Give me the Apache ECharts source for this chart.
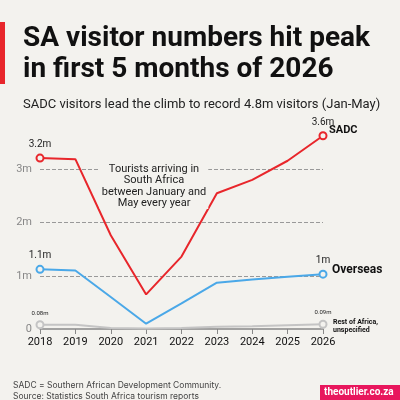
<!DOCTYPE html><html><head><meta charset="utf-8"><script src="https://cdn.jsdelivr.net/npm/echarts@6/dist/echarts.min.js"></script>
<style>html,body{margin:0;background:#f3f2ee}#c{width:400px;height:400px}</style></head><body><div id="c"></div><script>
const years=['2018','2019','2020','2021','2022','2023','2024','2025','2026'];
const sadc=[3.21,3.19,1.76,0.65,1.36,2.55,2.8,3.16,3.63];
const overseas=[1.12,1.1,0.6,0.1,0.48,0.87,0.93,0.98,1.03];
const rest=[0.08,0.08,0.02,0.01,0.02,0.04,0.05,0.07,0.09];
const yTicks=[0,1,2,3];
const F="'Liberation Sans Narrow','Roboto',sans-serif";
const ch=echarts.init(document.getElementById('c'));
function ser(name,data,color,firstLbl,lastLbl,lblSize){
 return {type:'line',name,data:data.map((v,i)=>{
  const o={value:v,symbol:'none'};
  if(i===0||i===data.length-1){o.symbol='circle';o.symbolSize=7;o.itemStyle={color:'#f3f2ee',borderColor:color,borderWidth:2};
   o.label={show:true,position:'top',distance:4,formatter:i===0?firstLbl:lastLbl,color:'#222',fontSize:lblSize,fontFamily:F}}
  return o}),lineStyle:{color,width:2},itemStyle:{color},animation:false,z:name==='rest'?1:3}}
ch.setOption({backgroundColor:'#f3f2ee',
 title:[{text:'SA visitor numbers hit peak\nin first 5 months of 2026',left:18,top:18,textStyle:{fontFamily:F,fontSize:28,fontWeight:'bold',color:'#111',lineHeight:31}},
  {text:'SADC visitors lead the climb to record 4.8m visitors (Jan-May)',left:18,top:93,textStyle:{fontFamily:F,fontSize:13,fontWeight:'normal',color:'#222'}},
  {text:'SADC = Southern African Development Community.\nSource: Statistics South Africa tourism reports',left:8,top:375,textStyle:{fontFamily:'Inter,sans-serif',fontSize:8.5,fontWeight:'normal',color:'#444',lineHeight:11}}],
 graphic:[{type:'rect',shape:{x:0,y:22,width:5,height:62},style:{fill:'#e8262b'}},
  {type:'rect',shape:{x:320,y:385,width:80,height:15},style:{fill:'#e8175d'}},
  {type:'text',left:324,top:387,style:{text:'theoutlier.co.za',fill:'#fff',font:'bold 10px '+F}},
  {type:'text',left:329,top:125,style:{text:'SADC',fill:'#111',font:'bold 11px '+F}},
  {type:'text',left:332,top:264,style:{text:'Overseas',fill:'#111',font:'bold 12px '+F}},
  {type:'text',left:333,top:318,style:{text:'Rest of Africa,\nunspecified',fill:'#111',font:'bold 7px '+F,lineHeight:8}},
  {type:'text',x:154,y:163,z:10,style:{text:'Tourists arriving in\nSouth Africa\nbetween January and\nMay every year',fill:'#222',font:'11px '+F,align:'center',verticalAlign:'top',lineHeight:11.5,backgroundColor:'#f3f2ee',padding:[0,2]}}],
 grid:{left:40,right:77,top:132,bottom:71},
 xAxis:{type:'category',data:years,boundaryGap:false,axisLine:{lineStyle:{color:'#888',width:1.5}},axisTick:{show:true,lineStyle:{color:'#888'}},axisLabel:{color:'#111',fontFamily:F,fontSize:11,margin:8}},
 yAxis:{type:'value',min:0,max:3.7,interval:1,axisLabel:{color:'#888',fontFamily:F,fontSize:11,showMaxLabel:false,formatter:v=>yTicks.includes(v)?(v===0?'0':v+'m'):''},splitLine:{showMinLine:false,showMaxLine:false,lineStyle:{color:'#999',type:'dashed'}},axisLine:{show:false},axisTick:{show:false}},
 series:[ser('rest',rest,'#c4c4c4','0.08m','0.09m',6),ser('overseas',overseas,'#4aa8e8','1.1m','1m',10),ser('sadc',sadc,'#e8262b','3.2m','3.6m',10)]});
</script></body></html>
